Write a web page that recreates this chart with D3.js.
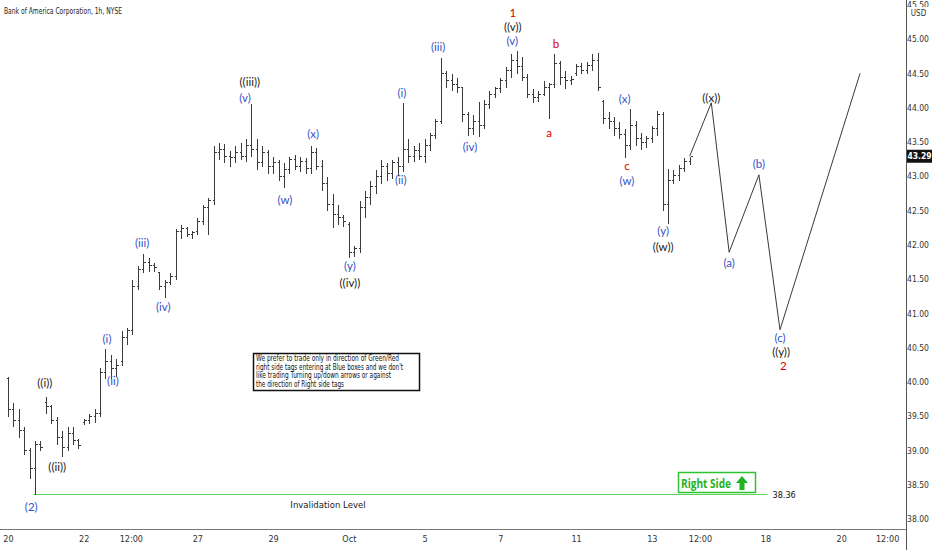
<!DOCTYPE html>
<html><head><meta charset="utf-8">
<script src="https://cdn.jsdelivr.net/npm/d3@7"></script>
<style>
html,body{margin:0;padding:0;background:#fff;}
svg{display:block;}
</style></head><body>
<svg id="c" width="932" height="550"></svg>
<script>
const title = "Bank of America Corporation, 1h, NYSE";

// hourly OHLC, 7 bars per session, Sep 20 -> Oct 14 (first bar)
const opens = [
  40.05,39.60,39.45,39.30,39.00,38.75,39.10,
  39.70,39.65,39.45,39.20,39.05,39.25,39.15,
  39.42,39.45,39.50,39.55,40.15,40.30,40.20,
  40.30,40.65,40.75,41.40,41.65,41.75,41.70,
  41.60,41.40,41.45,41.55,42.20,42.25,42.15,
  42.20,42.35,42.55,42.65,43.35,43.40,43.30,
  43.28,43.35,43.30,43.45,43.40,43.20,43.35,
  43.15,43.20,43.00,43.10,43.25,43.15,43.22,
  43.12,43.35,43.15,42.90,42.60,42.45,42.40,
  42.30,41.90,41.95,42.55,42.70,42.85,43.00,
  43.15,43.05,43.20,43.15,43.40,43.30,43.38,
  43.30,43.45,43.60,43.80,44.50,44.40,44.35,
  44.30,43.90,43.70,43.80,43.75,44.05,44.20,
  44.28,44.40,44.55,44.70,44.60,44.45,44.20,
  44.15,44.20,44.30,44.35,44.65,44.45,44.40,
  44.50,44.60,44.55,44.62,44.70,44.10,43.85,
  43.80,43.70,43.62,43.45,43.75,43.55,43.50,
  43.55,43.70,43.90,42.60,42.95,43.02,43.12,
  43.22];
const highs = [
  40.09,39.70,39.62,39.35,39.05,39.15,39.15,
  39.80,39.68,39.50,39.30,39.35,39.35,39.18,
  39.48,39.55,39.62,40.22,40.50,40.40,40.35,
  40.75,40.80,41.50,41.70,41.88,41.82,41.75,
  41.62,41.50,41.60,42.25,42.30,42.28,42.22,
  42.40,42.60,42.70,43.45,43.50,43.48,43.38,
  43.45,43.50,43.55,44.07,43.55,43.45,43.40,
  43.30,43.25,43.20,43.30,43.32,43.30,43.28,
  43.45,43.42,43.25,43.00,42.75,42.60,42.45,
  42.35,42.00,42.65,42.80,42.95,43.10,43.25,
  43.20,43.25,43.30,44.08,43.55,43.45,43.50,
  43.55,43.65,43.85,44.74,44.55,44.50,44.45,
  44.32,43.95,43.90,44.10,44.12,44.25,44.32,
  44.45,44.60,44.80,44.84,44.75,44.50,44.28,
  44.25,44.40,44.38,44.80,44.70,44.55,44.48,
  44.65,44.66,44.68,44.80,44.81,44.12,43.95,
  43.88,43.80,43.70,44.00,43.82,43.65,43.60,
  43.75,43.96,43.95,43.12,43.10,43.18,43.28,
  43.30];
const lows = [
  39.50,39.35,39.20,38.95,38.60,38.36,39.00,
  39.55,39.40,39.10,38.92,39.00,39.10,39.03,
  39.38,39.40,39.42,39.50,40.05,40.05,40.08,
  40.25,40.55,40.70,41.35,41.60,41.62,41.62,
  41.35,41.24,41.42,41.50,42.10,42.12,42.10,
  42.15,42.30,42.15,42.60,43.25,43.20,43.15,
  43.20,43.25,43.22,43.30,43.10,43.15,43.05,
  43.05,42.95,42.84,43.05,43.10,43.08,43.05,
  43.05,43.10,42.80,42.50,42.26,42.30,42.28,
  41.82,41.83,41.90,42.40,42.60,42.75,42.90,
  42.95,42.98,43.02,43.08,43.20,43.22,43.25,
  43.20,43.38,43.55,43.78,44.30,44.25,44.22,
  43.80,43.60,43.62,43.58,43.70,44.00,44.15,
  44.22,44.30,44.45,44.50,44.40,44.15,44.08,
  44.10,44.18,43.85,44.30,44.35,44.28,44.35,
  44.48,44.50,44.50,44.55,44.25,43.78,43.70,
  43.60,43.55,43.28,43.40,43.45,43.40,43.42,
  43.50,43.60,42.50,42.32,42.90,42.95,43.08,
  43.18];
const closes = [
  39.60,39.45,39.30,39.00,38.75,39.10,39.05,
  39.65,39.45,39.20,39.05,39.25,39.15,39.08,
  39.45,39.50,39.55,40.15,40.30,40.20,40.25,
  40.65,40.75,41.40,41.65,41.75,41.70,41.68,
  41.40,41.45,41.55,42.20,42.25,42.15,42.18,
  42.35,42.55,42.65,43.35,43.40,43.30,43.28,
  43.35,43.30,43.45,43.40,43.20,43.35,43.15,
  43.20,43.00,43.10,43.25,43.15,43.22,43.12,
  43.35,43.15,42.90,42.60,42.45,42.40,42.35,
  41.90,41.95,42.55,42.70,42.85,43.00,43.15,
  43.05,43.20,43.15,43.40,43.30,43.38,43.30,
  43.45,43.60,43.80,44.50,44.40,44.35,44.30,
  43.90,43.70,43.80,43.75,44.05,44.20,44.28,
  44.40,44.55,44.70,44.60,44.45,44.20,44.15,
  44.20,44.30,44.35,44.65,44.45,44.40,44.42,
  44.60,44.55,44.62,44.70,44.30,43.85,43.80,
  43.70,43.62,43.45,43.75,43.55,43.50,43.55,
  43.70,43.90,42.60,42.95,43.02,43.12,43.22,
  43.29];

const xTickIdx    = [0, 14, 22.7, 35, 49, 63, 77, 91, 105, 119, 127.9, 140, 154, 162.5];
const xTickLabels = ["20","22","12:00","27","29","Oct","5","7","11","13","12:00","18","20","12:00"];
const yTicks = [38,38.5,39,39.5,40,40.5,41,41.5,42,42.5,43,43.5,44,44.5,45,45.5];
const lastPrice = 43.29;
const invalidation = 38.36;
const invStartIdx = 4.7, invEndIdx = 140.4;

// projected path
const projIdx   = [126, 130, 133.3, 138.8, 142.7, 157.5];
const projPrice = [43.29, 44.07, 41.89, 43.02, 40.76, 44.50];

// wave labels
const labelText  = ["((i))","((ii))","((iii))","((iv))","((v))","((w))","((x))","((y))",
  "(2)","(i)","(ii)","(iii)","(iv)","(v)","(w)","(x)","(y)","(i)","(ii)","(iii)","(iv)","(v)","(x)","(w)","(y)","(a)","(b)","(c)",
  "1","a","b","c","2"];
const labelIdx   = [6.8, 9.1, 44.7, 63.2, 93.3, 121.1, 130, 142.9,
  4.3, 18.3, 19.4, 24.8, 28.7, 43.8, 51.2, 56.4, 63.2, 72.8, 72.6, 79.5, 85.4, 93.2, 114, 114.4, 121.1, 133.3, 138.8, 142.7,
  93.3, 100, 101.3, 114.4, 143.3];
const labelPrice = [39.98, 38.76, 44.37, 41.44, 45.17, 41.96, 44.14, 40.43,
  38.18, 40.63, 40.01, 42.03, 41.09, 44.14, 42.65, 43.61, 41.69, 44.21, 42.94, 44.88, 43.43, 44.97, 44.13, 42.93, 42.20, 41.73, 43.18, 40.64,
  45.38, 43.63, 44.93, 43.15, 40.23];
const labelKind  = ["k","k","k","k","k","k","k","k",
  "b","b","b","b","b","b","b","b","b","b","b","b","b","b","b","b","b","b","b","b",
  "r","r","r","r","r"];

const noteLines = [
  "We prefer to trade only in direction of Green/Red",
  "right side tags entering at Blue boxes and we don't",
  "like trading Turning up/down arrows or against",
  "the direction of Right side tags"];
const noteWidths = [143, 147, 135, 88];

const colors = {k:"#1c1c1c", b:"#3652c9", r:"#d40000"};
const narrow = "'Liberation Sans Narrow','DejaVu Sans Condensed','Arial Narrow',sans-serif";

const svg = d3.select("#c");
const plotRight = 906, plotBottom = 529;

const x = d3.scaleLinear().domain([0, 100]).range([8, 549]);
const y = d3.scaleLinear().domain([38, 45]).range([519, 39]);

// title
svg.append("text").attr("x", 4).attr("y", 14).text(title)
  .attr("font-family", narrow).attr("font-size", 9.5).attr("fill", "#222")
  .attr("textLength", 118).attr("lengthAdjust", "spacingAndGlyphs");

// invalidation line
svg.append("line")
  .attr("x1", x(invStartIdx)).attr("x2", x(invEndIdx))
  .attr("y1", Math.round(y(invalidation)) + 0.5).attr("y2", Math.round(y(invalidation)) + 0.5)
  .attr("stroke", "#5fd35f").attr("stroke-width", 1.2);
svg.append("text").attr("x", x(invEndIdx) + 5).attr("y", y(invalidation) + 3.5)
  .text(invalidation.toFixed(2)).attr("font-family", narrow).attr("font-size", 9).attr("fill", "#111");
svg.append("text").attr("x", 328).attr("y", 508).attr("text-anchor", "middle")
  .text("Invalidation Level").attr("font-family", narrow).attr("font-size", 9.5).attr("fill", "#222");

// OHLC bars
const bars = d3.range(opens.length).map(i => ({i, o: opens[i], h: highs[i], l: lows[i], c: closes[i]}));
const bg = svg.append("g").attr("stroke", "#3a3a3a").attr("stroke-width", 1).attr("shape-rendering", "crispEdges");
const bx = d => Math.round(x(d.i)) + 0.5;
const by = v => Math.round(y(v)) + 0.5;
bg.selectAll("line.hl").data(bars).join("line").attr("class", "hl")
  .attr("x1", bx).attr("x2", bx).attr("y1", d => by(d.h)).attr("y2", d => by(d.l) + 0.5);
bg.selectAll("line.op").data(bars).join("line").attr("class", "op")
  .attr("x1", d => bx(d) - 2).attr("x2", bx).attr("y1", d => by(d.o)).attr("y2", d => by(d.o));
bg.selectAll("line.cl").data(bars).join("line").attr("class", "cl")
  .attr("x1", bx).attr("x2", d => bx(d) + 2).attr("y1", d => by(d.c)).attr("y2", d => by(d.c));

// projection
const proj = projIdx.map((v, i) => [v, projPrice[i]]);
svg.append("path").datum(proj)
  .attr("d", d3.line().x(d => x(d[0])).y(d => y(d[1])))
  .attr("fill", "none").attr("stroke", "#3a3a3a").attr("stroke-width", 1);

// wave labels
svg.append("g").selectAll("text").data(labelText).join("text")
  .attr("x", (d, i) => x(labelIdx[i])).attr("y", (d, i) => y(labelPrice[i]))
  .attr("dy", "0.34em").attr("text-anchor", "middle")
  .attr("font-family", "Lato, 'Open Sans', sans-serif").attr("font-size", 11.5)
  .attr("fill", (d, i) => colors[labelKind[i]]).text(d => d);

// note box
const note = svg.append("g");
note.append("rect").attr("x", 253.5).attr("y", 353.5).attr("width", 166).attr("height", 37)
  .attr("fill", "#fff").attr("stroke", "#111").attr("stroke-width", 1.5);
note.selectAll("text").data(noteLines).join("text")
  .attr("x", 256).attr("y", (d, i) => 361 + i * 8.5)
  .attr("textLength", (d, i) => noteWidths[i]).attr("lengthAdjust", "spacingAndGlyphs")
  .attr("font-family", narrow).attr("font-size", 8.3).attr("fill", "#111").text(d => d);

// Right Side tag
const rs = svg.append("g");
rs.append("rect").attr("x", 678.5).attr("y", 472.5).attr("width", 77).attr("height", 20)
  .attr("fill", "#fff").attr("stroke", "#2fc42f").attr("stroke-width", 1.5);
rs.append("text").attr("x", 681).attr("y", 487.5).text("Right Side")
  .attr("font-family", "'Open Sans', Lato, sans-serif").attr("font-weight", "bold").attr("font-size", 12)
  .attr("fill", "#22b322").attr("textLength", 50).attr("lengthAdjust", "spacingAndGlyphs");
rs.append("path").attr("d", "M742,476 L748,483 L744.5,483 L744.5,490 L739.5,490 L739.5,483 L736,483 Z")
  .attr("fill", "#22b322");

// axes
svg.append("line").attr("x1", 0).attr("x2", plotRight).attr("y1", plotBottom + 0.5).attr("y2", plotBottom + 0.5)
  .attr("stroke", "#777");
svg.append("line").attr("x1", plotRight + 0.5).attr("x2", plotRight + 0.5).attr("y1", 0).attr("y2", 550)
  .attr("stroke", "#555");

const xa = svg.append("g").attr("transform", `translate(0,${plotBottom})`)
  .call(d3.axisBottom(x).tickValues(xTickIdx).tickFormat((d, i) => xTickLabels[i]).tickSize(0).tickPadding(7));
xa.select(".domain").remove();
xa.selectAll("text").attr("font-family", narrow).attr("font-size", 9).attr("fill", "#333");

const ya = svg.append("g").attr("transform", `translate(${plotRight},0)`)
  .call(d3.axisRight(y).tickValues(yTicks).tickFormat(d3.format(".2f")).tickSize(0));
ya.select(".domain").remove();
ya.selectAll("text").attr("x", 12).attr("text-anchor", "middle")
  .attr("font-family", narrow).attr("font-size", 8.5).attr("fill", "#333");

// USD unit
svg.append("rect").attr("x", 909).attr("y", 7).attr("width", 19).attr("height", 11).attr("fill", "#fff");
svg.append("text").attr("x", 918.5).attr("y", 15.5).attr("text-anchor", "middle").text("USD")
  .attr("font-family", narrow).attr("font-size", 8).attr("fill", "#333");

// last price tag
svg.append("rect").attr("x", 907).attr("y", y(lastPrice) - 6.5).attr("width", 25).attr("height", 13).attr("fill", "#131313");
svg.append("text").attr("x", 919.5).attr("y", y(lastPrice) + 3).attr("text-anchor", "middle")
  .text(lastPrice.toFixed(2)).attr("font-family", narrow).attr("font-weight", "bold")
  .attr("font-size", 8.5).attr("fill", "#fff");
</script>
</body></html>
